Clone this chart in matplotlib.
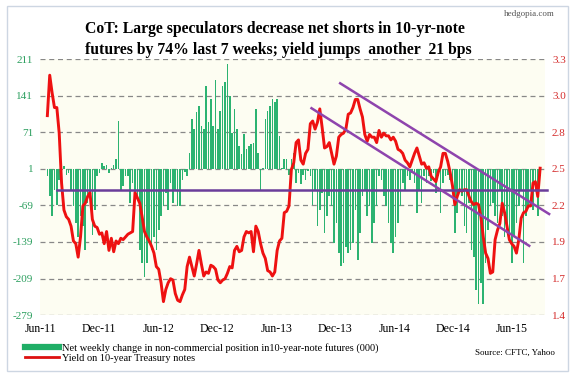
import numpy as np
import matplotlib
matplotlib.use("Agg")
import matplotlib.pyplot as plt
from matplotlib.lines import Line2D
from matplotlib.patches import Rectangle

plt.rcParams['font.family'] = ['Liberation Serif', 'DejaVu Serif']

# weekly change in non-commercial net position (000), Jun-11 .. Jun-15
net_change = [
    -13, -52, -90, -39, -68, -20, 0, 6, -10, -7, -39, -71, -103, -129, -90, -109,
    -154, -64, -52, -125, -77, -13, -7, 12, 6, 9, -7, 3, 9, 19, 93, -39, -32, -13,
    -13, -64, -26, -45, -52, -154, -180, -206, -180, -141, -154, -129, -154, -116,
    -90, -71, -45, -77,
    -26, -64, -39, -71, -71, -20, -5, -13, 32, 96, 77, 109, 122, 83, 77, 160, 90,
    135, 83, 170, 77, 112, 160, 167, 202, 141, 70, 115, 77, 45, 29, 67, 38, 45, 48,
    51, 115, 32, -39, 3, 96, 112, 122, 135, 128, 135, 64, 3, 19, 19, -10, 19,
    32, -26, -7, -29, -10, -20, -3, -13, -68, -39, -109, -77, -45, -122, -90, -52,
    -71, -141, -103, -161, -186, -180, -148, -161, -154, -141, -77, -173, -122, -52,
    -39, -90, -71, -141, -103, -71, -13, -20, -52, -71, -103, -141, -161, -129, -103,
    -71, -26, -39, -13, -20, -7, -26,
    -84, -39, -64, -13, -26, -13, -23, -7, -45, -13, -84, -26, -13, -10, -20, -39,
    -122, -84, -39, -52, -109, -122, -64, -154, -167, -231, -257, -218, -257, -180,
    -116, -71, -64, -90, -103, -39, -90, -129, -109, -141, -180, -129, -103, -71, -39,
    -180, -90, -71, -39, -77, -39, -90, -13,
]

# 10-year Treasury yield (%)
yield_10y = [
    2.88, 3.18, 3.05, 2.94, 2.94, 2.75, 2.38, 2.18, 2.13, 2.11, 2.06, 1.95, 1.93,
    1.83, 1.98, 2.21, 2.23, 2.28, 2.31, 2.11, 2.06, 2.05, 2.00, 2.01, 1.93, 2.02,
    1.88, 1.97, 1.87, 1.95, 1.93, 1.97, 1.96, 1.98, 2.00, 2.01, 2.02, 2.31, 2.27,
    2.23, 2.13, 2.02, 1.98, 1.95, 1.91, 1.86, 1.76, 1.74, 1.64, 1.50, 1.59, 1.64,
    1.67, 1.66, 1.56, 1.51, 1.50, 1.55, 1.59, 1.76, 1.83, 1.76, 1.69, 1.78, 1.88,
    1.78, 1.69, 1.72, 1.71, 1.77, 1.76, 1.74, 1.66, 1.64, 1.66, 1.67, 1.71, 1.76,
    1.75, 1.88, 1.91, 1.87, 1.88, 1.98, 2.02, 2.01, 2.02, 1.87, 2.06, 2.02, 1.93,
    1.86, 1.82, 1.73, 1.72, 1.69, 1.72, 1.88, 1.95, 1.97, 2.16, 2.17, 2.21, 2.48,
    2.53, 2.68, 2.70, 2.55, 2.52, 2.60, 2.63, 2.82, 2.84, 2.78, 2.83, 2.93, 2.79,
    2.64, 2.65, 2.68, 2.60, 2.52, 2.58, 2.72, 2.74, 2.75, 2.78, 2.89, 2.90, 2.94,
    3.00, 3.00, 2.93, 2.87, 2.74, 2.69, 2.74, 2.72, 2.72, 2.68, 2.77, 2.72, 2.75,
    2.73, 2.73, 2.70, 2.72, 2.69, 2.63, 2.62, 2.60, 2.55, 2.53, 2.50, 2.55, 2.60,
    2.64, 2.58, 2.52, 2.53, 2.49, 2.50, 2.43, 2.41, 2.39, 2.46, 2.50, 2.60, 2.60,
    2.54, 2.46, 2.36, 2.22, 2.28, 2.33, 2.32, 2.33, 2.33, 2.28, 2.24, 2.22, 2.23,
    2.22, 2.13, 1.98, 1.86, 1.82, 1.71, 1.72, 1.96, 2.03, 2.08, 2.23, 2.16, 2.06,
    1.96, 1.93, 1.91, 1.86, 1.96, 2.12, 2.16, 2.17, 2.21, 2.21, 2.38, 2.39, 2.28, 2.49,
]

# trend lines drawn on the yield axis: (week index, yield)
hline_x = [4, 211]
hline_y = [2.33, 2.33]
upper_x = [123.6, 211.8]
upper_y = [3.12, 2.15]
lower_x = [111.5, 203.4]
lower_y = [2.935, 1.914]

month_labels = ['Jun-11', 'Dec-11', 'Jun-12', 'Dec-12', 'Jun-13',
                'Dec-13', 'Jun-14', 'Dec-14', 'Jun-15']
left_ticks = [-279, -209, -139, -69, 1, 71, 141, 211]

x = np.arange(len(yield_10y))

fig = plt.figure(figsize=(5.75, 3.76), dpi=100)
fig.patches.append(Rectangle((0.012, 0.013), 0.976, 0.972, transform=fig.transFigure,
                             facecolor='white', edgecolor='#cdd6e2', lw=1, zorder=-5))

ax = fig.add_axes([0.07, 0.162, 0.878, 0.681])
ax.set_facecolor('#fdfdf2')
ax.bar(x, net_change, width=0.68, color='#2cb371', linewidth=0, zorder=2)
ax.set_ylim(-279, 211)
ax.set_xlim(-0.8, 210.1)
ax.set_yticks(left_ticks)
ax.set_yticklabels([str(t) for t in left_ticks], color='#2c9f5f', fontsize=8)
for t in left_ticks:
    ax.axhline(t, color='#888888', lw=0.9, ls=(0, (4, 3)), zorder=1)

ax.set_xticks([-3 + 24.9 * k for k in range(len(month_labels))])
ax.set_xticklabels(month_labels, fontsize=8.5)
ax.tick_params(length=0, pad=6)
ax.tick_params(axis='y', pad=5)

ax2 = ax.twinx()
ax2.set_ylim(1.4, 3.3)
r_ticks = np.linspace(1.4, 3.3, 8)
ax2.set_yticks(r_ticks)
ax2.set_yticklabels(['%.1f' % t for t in r_ticks], color='#d42a2a', fontsize=8)
ax2.tick_params(length=0, pad=5)
ax2.plot(x, yield_10y, color='#ee1111', lw=2.1, zorder=3)
ax2.plot(hline_x, hline_y, color='#6a3d9a', lw=1.8, clip_on=False, zorder=4)
ax2.plot(upper_x, upper_y, color='#8e44ad', lw=1.8, clip_on=False, zorder=4)
ax2.plot(lower_x, lower_y, color='#8e44ad', lw=1.8, clip_on=False, zorder=4)

for a in (ax, ax2):
    for s in a.spines.values():
        s.set_visible(False)

fig.text(0.148, 0.922, 'CoT: Large speculators decrease net shorts in 10-yr-note',
         ha='left', va='center', fontsize=11.3, fontweight='bold')
fig.text(0.148, 0.868, 'futures by 74% last 7 weeks; yield jumps  another  21 bps',
         ha='left', va='center', fontsize=11.3, fontweight='bold')
fig.text(0.965, 0.962, 'hedgopia.com', ha='right', va='center', fontsize=6.5, color='#555555')
fig.text(0.965, 0.062, 'Source: CFTC, Yahoo', ha='right', va='center', fontsize=6.5)

handles = [Line2D([0], [0], color='#1fae66', lw=4.5),
           Line2D([0], [0], color='#dd1111', lw=2)]
fig.legend(handles, ['Net weekly change in non-commercial position in10-year-note futures (000)',
                     'Yield on 10-year Treasury notes'],
           loc='lower left', bbox_to_anchor=(0.03, 0.015), frameon=False, fontsize=7.5,
           handlelength=3.3, handletextpad=0.3, labelspacing=0.05, borderpad=0.2)

fig.savefig('out.png', dpi=100)
